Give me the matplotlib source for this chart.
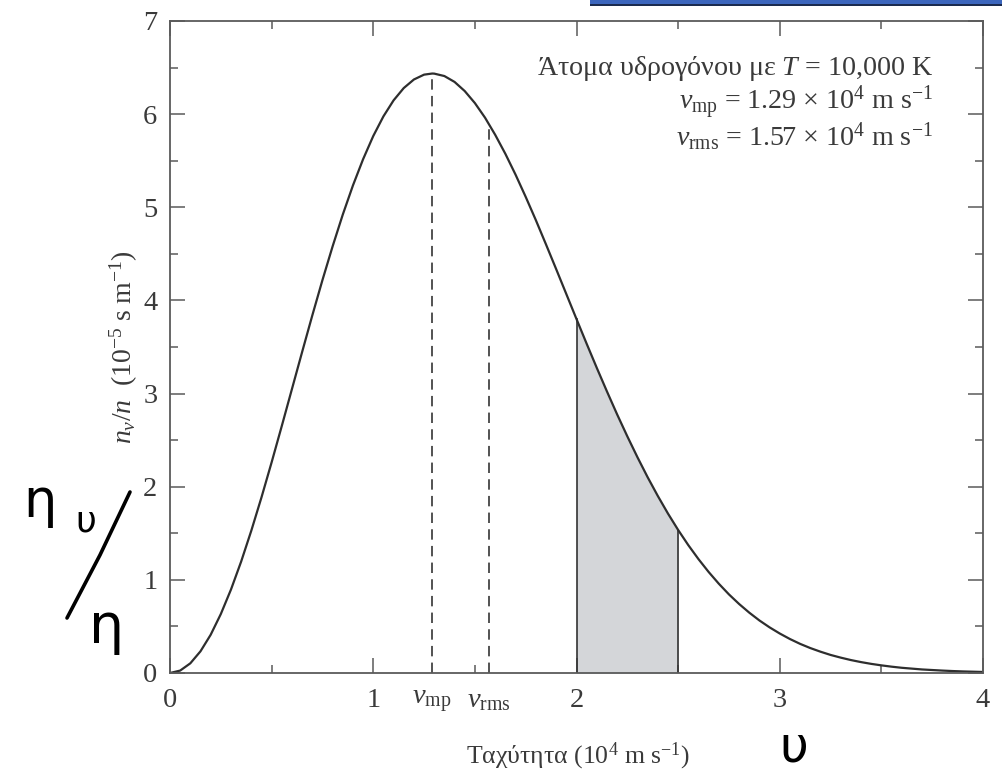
import matplotlib
matplotlib.use("Agg")
import matplotlib.pyplot as plt
from matplotlib.lines import Line2D
from matplotlib.patches import Rectangle
import numpy as np

# ---- data ----
speed = [0.00, 0.05, 0.10, 0.15, 0.20, 0.25, 0.30, 0.35, 0.40, 0.45,
         0.50, 0.55, 0.60, 0.65, 0.70, 0.75, 0.80, 0.85, 0.90, 0.95,
         1.00, 1.05, 1.10, 1.15, 1.20, 1.25, 1.29, 1.30, 1.35, 1.40,
         1.45, 1.50, 1.55, 1.60, 1.65, 1.70, 1.75, 1.80, 1.85, 1.90,
         1.95, 2.00, 2.05, 2.10, 2.15, 2.20, 2.25, 2.30, 2.35, 2.40,
         2.45, 2.50, 2.55, 2.60, 2.65, 2.70, 2.75, 2.80, 2.85, 2.90,
         2.95, 3.00, 3.05, 3.10, 3.15, 3.20, 3.25, 3.30, 3.35, 3.40,
         3.45, 3.50, 3.55, 3.60, 3.65, 3.70, 3.75, 3.80, 3.85, 3.90,
         3.95, 4.00]
density = [0.000, 0.026, 0.104, 0.233, 0.410, 0.633, 0.896, 1.196, 1.528, 1.885,
           2.262, 2.652, 3.049, 3.446, 3.838, 4.218, 4.580, 4.921, 5.234, 5.516,
           5.765, 5.976, 6.148, 6.280, 6.372, 6.424, 6.436, 6.435, 6.409, 6.346,
           6.248, 6.119, 5.962, 5.778, 5.574, 5.351, 5.112, 4.862, 4.601, 4.336,
           4.068, 3.800, 3.535, 3.275, 3.022, 2.776, 2.541, 2.316, 2.102, 1.901,
           1.712, 1.536, 1.373, 1.223, 1.085, 0.959, 0.844, 0.741, 0.648, 0.564,
           0.490, 0.424, 0.365, 0.313, 0.268, 0.229, 0.194, 0.165, 0.139, 0.117,
           0.098, 0.082, 0.068, 0.056, 0.047, 0.038, 0.032, 0.026, 0.021, 0.017,
           0.014, 0.011]
v_marks = [1.29, 1.57]          # v_mp, v_rms
v_mark_tops = [6.44, 5.89]
v_mark_labels = [r"$v_{\mathrm{mp}}$", r"$v_{\mathrm{rms}}$"]
shade_range = [2.0, 2.5]
x_ticks = [0, 1, 2, 3, 4]
y_ticks = [0, 1, 2, 3, 4, 5, 6, 7]

plt.rcParams['font.family'] = ['Liberation Serif', 'DejaVu Serif']
plt.rcParams['mathtext.fontset'] = 'custom'
plt.rcParams['mathtext.rm'] = 'Liberation Serif'
plt.rcParams['mathtext.it'] = 'Liberation Serif:italic'
plt.rcParams['lines.scale_dashes'] = False

txt = '#3a3a3a'
ax_col = '#5a5a5a'

fig = plt.figure(figsize=(10.02, 7.75), dpi=100)
ax = fig.add_axes([170/1002, 102/775, 813/1002, 652/775])

sx = np.array(speed)
sy = np.array(density)

# shaded region
m = (sx >= shade_range[0] - 1e-9) & (sx <= shade_range[1] + 1e-9)
ax.fill_between(sx[m], 0, sy[m], color='#d4d6d9', lw=0)
for xv in shade_range:
    yv = np.interp(xv, sx, sy)
    ax.plot([xv, xv], [0, yv], color='#333333', lw=1.2)

# dashed markers
for xv, yv in zip(v_marks, v_mark_tops):
    ax.plot([xv, xv], [0, yv], color='#444444', lw=1.3,
            linestyle=(0, (7.5, 4.5)))

ax.plot(sx, sy, color='#2e2e2e', lw=1.6, solid_joinstyle='round',
        solid_capstyle='round')

ax.set_xlim(0, 4)
ax.set_ylim(0, 7)

xt = x_ticks[:2] + v_marks + x_ticks[2:]
xl = [str(t) for t in x_ticks[:2]] + v_mark_labels + [str(t) for t in x_ticks[2:]]
ax.set_xticks(xt)
ax.set_xticklabels(xl)
ax.set_xticks([0.5, 1.5, 2.5, 3.5], minor=True)
ax.set_yticks(y_ticks)
ax.set_yticks(np.arange(0.5, 7, 1.0), minor=True)

ax.tick_params(which='both', direction='in', top=True, right=True,
               color=ax_col, labelcolor=txt, labelsize=20.5)
ax.tick_params(which='major', length=11, width=1.1)
ax.tick_params(which='minor', length=5.5, width=1.1)
ax.tick_params(axis='x', which='major', pad=11)
ax.tick_params(axis='y', which='major', pad=9)
for t in ax.xaxis.get_major_ticks():
    if t.get_loc() in v_marks:
        t.tick1line.set_visible(False)
        t.tick2line.set_visible(False)

for s in ax.spines.values():
    s.set_color(ax_col)
    s.set_linewidth(1.3)

ax.set_xlabel("Ταχύτητα (10$^4$ m s$^{-1}$)", fontsize=18.5, color=txt)
ax.xaxis.set_label_coords((578 - 170) / 813, (673 - 763) / 652)
ax.xaxis.label.set_va('baseline')
ax.set_ylabel(r"$n_v/n\ \ (10^{-5}\ \mathrm{s\ m}^{-1})$", fontsize=20, color=txt)
ax.yaxis.set_label_coords((140 - 170) / 813, 0.5)

tx = (933 - 170) / 813
fs_ann = 20.2
ax.text(tx, (673 - 75) / 652, "Άτομα υδρογόνου με $T$ = 10,000 K",
        transform=ax.transAxes, ha='right', va='baseline', fontsize=fs_ann, color=txt)
ax.text(tx, (673 - 110) / 652, r"$v_{\mathrm{mp}}$ = 1.29 × 10$^4$ m s$^{-1}$",
        transform=ax.transAxes, ha='right', va='baseline', fontsize=fs_ann, color=txt)
ax.text(tx, (673 - 146) / 652, r"$v_{\mathrm{rms}}$ = 1.57 × 10$^4$ m s$^{-1}$",
        transform=ax.transAxes, ha='right', va='baseline', fontsize=fs_ann, color=txt)

# handwritten annotations
hw = dict(family='DejaVu Sans', color='black', ha='center', va='center')
fig.text(40/1002, 1 - 502/775, "η", fontsize=38, **hw)
fig.text(86/1002, 1 - 522/775, "υ", fontsize=26, **hw)
fig.text(107/1002, 1 - 628/775, "η", fontsize=40, **hw)
fig.text(794/1002, 1 - 747/775, "υ", fontsize=36, **hw)
fig.add_artist(Line2D([130/1002, 100/1002, 67/1002],
                      [1 - 492/775, 1 - 555/775, 1 - 618/775],
                      transform=fig.transFigure, color='black', lw=2.6,
                      solid_capstyle='round'))

# blue bar at top right
fig.add_artist(Rectangle((590/1002, 1 - 4/775), 412/1002, 4/775,
                         transform=fig.transFigure, color='#3c66bd', lw=0))
fig.add_artist(Rectangle((590/1002, 1 - 5.5/775), 412/1002, 1.8/775,
                         transform=fig.transFigure, color='#1b2b4f', lw=0))

fig.savefig("out.png", dpi=100)
